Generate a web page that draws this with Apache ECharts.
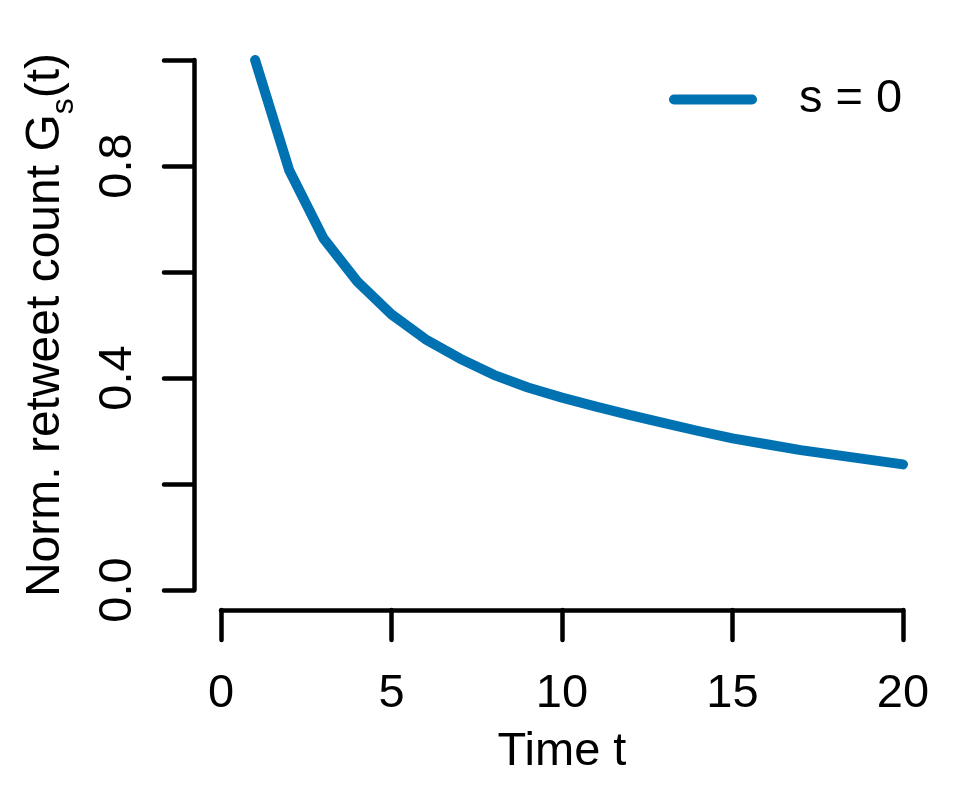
<!DOCTYPE html>
<html>
<head>
<meta charset="utf-8">
<script src="https://cdn.jsdelivr.net/npm/echarts@6/dist/echarts.min.js"></script>
<style>
html,body{margin:0;padding:0;background:#fff;}
#chart{width:969px;height:794px;}
</style>
</head>
<body>
<div id="chart"></div>
<script>
var times = [1,2,3,4,5,6,7,8,9,10,11,12,13,14,15,16,17,18,19,20];
var values = [1.000,0.792,0.664,0.582,0.520,0.473,0.437,0.406,0.382,0.363,0.346,0.330,0.315,0.300,0.286,0.275,0.264,0.255,0.246,0.237];
var seriesName = 's = 0';
var yLabelsShown = [0.0, 0.4, 0.8];

var FONT = '"Liberation Sans", Arial, Helvetica, sans-serif';
var BLUE = '#0072B2';

var chart = echarts.init(document.getElementById('chart'), null, {renderer:'canvas'});
chart.setOption({
  animation:false,
  backgroundColor:'#fff',
  grid:{left:221, right:66, top:60, bottom:204, containLabel:false},
  legend:{
    left:664, top:71,
    data:[{name:seriesName, icon:'path://M5,0 L83,0 A5,5 0 0 1 83,10 L5,10 A5,5 0 0 1 5,0 Z'}],
    itemWidth:90, itemHeight:10,
    itemStyle:{color:BLUE},
    textStyle:{fontFamily:FONT, fontSize:47, color:'#000', padding:[0,0,0,36]}
  },
  xAxis:{
    type:'value', min:0, max:20, interval:5,
    offset:20,
    axisLine:{show:true, onZero:false, lineStyle:{color:'#000', width:4.5, cap:'round'}},
    axisTick:{show:true, length:30, lineStyle:{color:'#000', width:4.5, cap:'round'}},
    axisLabel:{fontFamily:FONT, fontSize:47, color:'#000', margin:61},
    splitLine:{show:false},
    name:'Time t', nameLocation:'middle', nameGap:119,
    nameTextStyle:{fontFamily:FONT, fontSize:47, color:'#000'}
  },
  yAxis:{
    type:'value', min:0, max:1, interval:0.2,
    offset:27,
    axisLine:{show:true, onZero:false, lineStyle:{color:'#000', width:4.5, cap:'round'}},
    axisTick:{show:true, length:30, lineStyle:{color:'#000', width:4.5, cap:'round'}},
    axisLabel:{
      fontFamily:FONT, fontSize:47, color:'#000', rotate:90, margin:52,
      formatter:function(v){
        for (var i=0;i<yLabelsShown.length;i++){ if (Math.abs(v-yLabelsShown[i])<1e-6) return v.toFixed(1); }
        return '';
      }
    },
    splitLine:{show:false},
    name:'Norm. retweet count G{sub|s}(t)', nameLocation:'middle', nameGap:124, nameRotate:90,
    nameTextStyle:{fontFamily:FONT, fontSize:48, color:'#000',
      rich:{sub:{fontFamily:FONT, fontSize:32, color:'#000', verticalAlign:'bottom', padding:[0,0,-10,0]}}}
  },
  series:[{
    name:seriesName, type:'line',
    data: times.map(function(t,i){return [t, values[i]];}),
    symbol:'none', smooth:false,
    lineStyle:{color:BLUE, width:10, cap:'round', join:'round'},
    itemStyle:{color:BLUE}
  }]
});
</script>
</body>
</html>
